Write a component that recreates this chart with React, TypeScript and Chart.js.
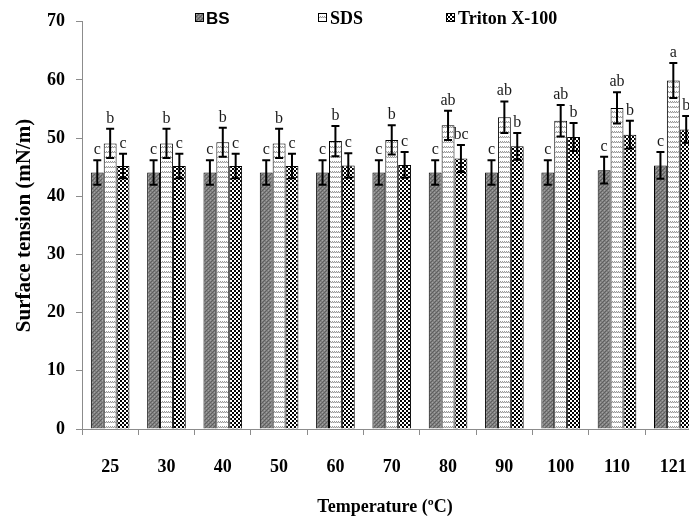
import React, { useEffect, useRef } from "react";
import { Chart, registerables } from "chart.js";

Chart.register(...registerables);

const temperatures = ["25", "30", "40", "50", "60", "70", "80", "90", "100", "110", "121"];
const bsValues = [44.1, 44.1, 44.1, 44.1, 44.1, 44.1, 44.1, 44.1, 44.1, 44.5, 45.3];
const bsErrors = [2.1, 2.1, 2.1, 2.1, 2.1, 2.1, 2.1, 2.1, 2.1, 2.3, 2.3];
const sdsValues = [49.1, 49.1, 49.3, 49.1, 49.5, 49.7, 52.2, 53.6, 53.0, 55.2, 59.9];
const sdsErrors = [2.5, 2.5, 2.5, 2.5, 2.6, 2.5, 2.5, 2.7, 2.7, 2.7, 3.0];
const tritonValues = [45.2, 45.2, 45.2, 45.2, 45.3, 45.4, 46.5, 48.6, 50.2, 50.6, 51.5];
const tritonErrors = [2.1, 2.1, 2.1, 2.1, 2.1, 2.2, 2.3, 2.3, 2.4, 2.4, 2.3];
const bsLetters = ["c", "c", "c", "c", "c", "c", "c", "c", "c", "c", "c"];
const sdsLetters = ["b", "b", "b", "b", "b", "b", "ab", "ab", "ab", "ab", "a"];
const tritonLetters = ["c", "c", "c", "c", "c", "c", "bc", "b", "b", "b", "b"];
const seriesNames = ["BS", "SDS", "Triton X-100"];
const yMin = 0;
const yMax = 70;
const yStep = 10;

const SERIF = "'Liberation Serif', 'Times New Roman', serif";
const SANS = "'Liberation Sans', Arial, sans-serif";

function makePattern(kind: string): CanvasPattern | string {
  const c = document.createElement("canvas");
  const ctx = c.getContext("2d");
  if (!ctx) return "#888";
  if (kind === "bs") {
    c.width = 4; c.height = 4;
    ctx.fillStyle = "#808080"; ctx.fillRect(0, 0, 4, 4);
    ctx.fillStyle = "#5e5e5e";
    ctx.fillRect(0, 0, 1, 1); ctx.fillRect(2, 2, 1, 1); ctx.fillRect(1, 3, 1, 1); ctx.fillRect(3, 1, 1, 1);
    ctx.fillStyle = "#a2a2a2";
    ctx.fillRect(2, 0, 1, 1); ctx.fillRect(0, 2, 1, 1);
  } else if (kind === "sds") {
    c.width = 4; c.height = 5;
    ctx.fillStyle = "#ffffff"; ctx.fillRect(0, 0, 4, 5);
    ctx.fillStyle = "#9a9a9a";
    ctx.fillRect(0, 1, 1, 1); ctx.fillRect(1, 2, 1, 1); ctx.fillRect(2, 1, 1, 1); ctx.fillRect(3, 2, 1, 1);
    ctx.fillStyle = "#d0d0d0";
    ctx.fillRect(0, 2, 1, 1); ctx.fillRect(2, 2, 1, 1);
  } else {
    c.width = 4; c.height = 4;
    ctx.fillStyle = "#ffffff"; ctx.fillRect(0, 0, 4, 4);
    ctx.fillStyle = "#000000";
    ctx.fillRect(0, 0, 2, 2); ctx.fillRect(2, 2, 2, 2);
  }
  const p = ctx.createPattern(c, "repeat");
  return p || "#888";
}

export default function App() {
  const ref = useRef<HTMLCanvasElement | null>(null);

  useEffect(() => {
    const canvas = ref.current;
    if (!canvas) return;
    const fills = [makePattern("bs"), makePattern("sds"), makePattern("triton")];
    const errors = [bsErrors, sdsErrors, tritonErrors];
    const letters = [bsLetters, sdsLetters, tritonLetters];

    const errorBarPlugin = {
      id: "errorBars",
      afterDatasetsDraw(chart: any) {
        const ctx = chart.ctx;
        const yScale = chart.scales.y;
        ctx.save();
        chart.data.datasets.forEach((ds: any, i: number) => {
          const meta = chart.getDatasetMeta(i);
          meta.data.forEach((bar: any, j: number) => {
            const v = ds.data[j];
            const e = errors[i][j];
            const x = bar.x;
            const top = yScale.getPixelForValue(v + e);
            const bot = yScale.getPixelForValue(v - e);
            ctx.strokeStyle = "#000";
            ctx.lineWidth = 2;
            ctx.beginPath();
            ctx.moveTo(x, top); ctx.lineTo(x, bot);
            ctx.moveTo(x - 4, top); ctx.lineTo(x + 4, top);
            ctx.moveTo(x - 4, bot); ctx.lineTo(x + 4, bot);
            ctx.stroke();
            ctx.fillStyle = "#1a1a1a";
            ctx.font = "16px " + SERIF;
            ctx.textAlign = "center";
            ctx.textBaseline = "alphabetic";
            ctx.fillText(letters[i][j], x, top - 6);
          });
        });
        ctx.restore();
      },
    };

    const legendPlugin = {
      id: "customLegend",
      afterDraw(chart: any) {
        const ctx = chart.ctx;
        ctx.save();
        const items = [
          { box: 195, text: 206, font: "bold 17px " + SANS },
          { box: 318, text: 330, font: "bold 18px " + SERIF },
          { box: 446, text: 458, font: "bold 18px " + SERIF },
        ];
        items.forEach((it, i) => {
          ctx.fillStyle = fills[i];
          ctx.fillRect(it.box, 13, 9, 9);
          ctx.strokeStyle = "#000";
          ctx.lineWidth = 1;
          ctx.strokeRect(it.box + 0.5, 13.5, 8, 8);
          ctx.fillStyle = "#000";
          ctx.font = it.font;
          ctx.textAlign = "left";
          ctx.textBaseline = "alphabetic";
          ctx.fillText(seriesNames[i], it.text, 24);
        });
        // x-axis title
        ctx.font = "bold 18px " + SERIF;
        ctx.textAlign = "center";
        ctx.textBaseline = "middle";
        ctx.fillText("Temperature (ºC)", 385, 507);
        ctx.restore();
      },
    };

    const mk = (label: string, data: number[], i: number) => ({
      label,
      data,
      backgroundColor: fills[i],
      borderColor: "#000",
      borderWidth: 1,
      barPercentage: 1,
      categoryPercentage: 0.686,
    });

    const chart = new Chart(canvas, {
      type: "bar",
      data: {
        labels: temperatures,
        datasets: [
          mk(seriesNames[0], bsValues, 0),
          mk(seriesNames[1], sdsValues, 1),
          mk(seriesNames[2], tritonValues, 2),
        ],
      },
      options: {
        responsive: false,
        animation: false,
        devicePixelRatio: 1,
        layout: { padding: { top: 20, right: 4, left: 0, bottom: 0 } },
        plugins: { legend: { display: false }, tooltip: { enabled: false } },
        scales: {
          x: {
            offset: true,
            grid: { display: true, offset: true, drawOnChartArea: false, tickLength: 6, color: "#8c8c8c" },
            border: { color: "#8c8c8c", width: 1 },
            ticks: { color: "#000", padding: 22, font: { family: SERIF, size: 18, weight: "bold" } },
            afterFit: (s: any) => { s.height = 91; },
          },
          y: {
            min: yMin,
            max: yMax,
            ticks: { stepSize: yStep, color: "#000", padding: 11, font: { family: SERIF, size: 18, weight: "bold" } },
            grid: { display: true, drawOnChartArea: false, tickLength: 6, color: "#8c8c8c" },
            border: { color: "#8c8c8c", width: 1 },
            title: {
              display: true,
              text: "Surface tension (mN/m)",
              color: "#000",
              padding: { top: 12, bottom: 0 },
              font: { family: SERIF, size: 21, weight: "bold" },
            },
            afterFit: (s: any) => { s.width = 82; },
          },
        },
      },
      plugins: [errorBarPlugin, legendPlugin],
    } as any);
    return () => chart.destroy();
  }, []);

  return (
    <div style={{ position: "absolute", left: 0, top: 0, width: 689, height: 520, overflow: "hidden", background: "#fff" }}>
      <canvas ref={ref} width={709} height={520} style={{ display: "block", width: 709, height: 520 }} />
    </div>
  );
}
